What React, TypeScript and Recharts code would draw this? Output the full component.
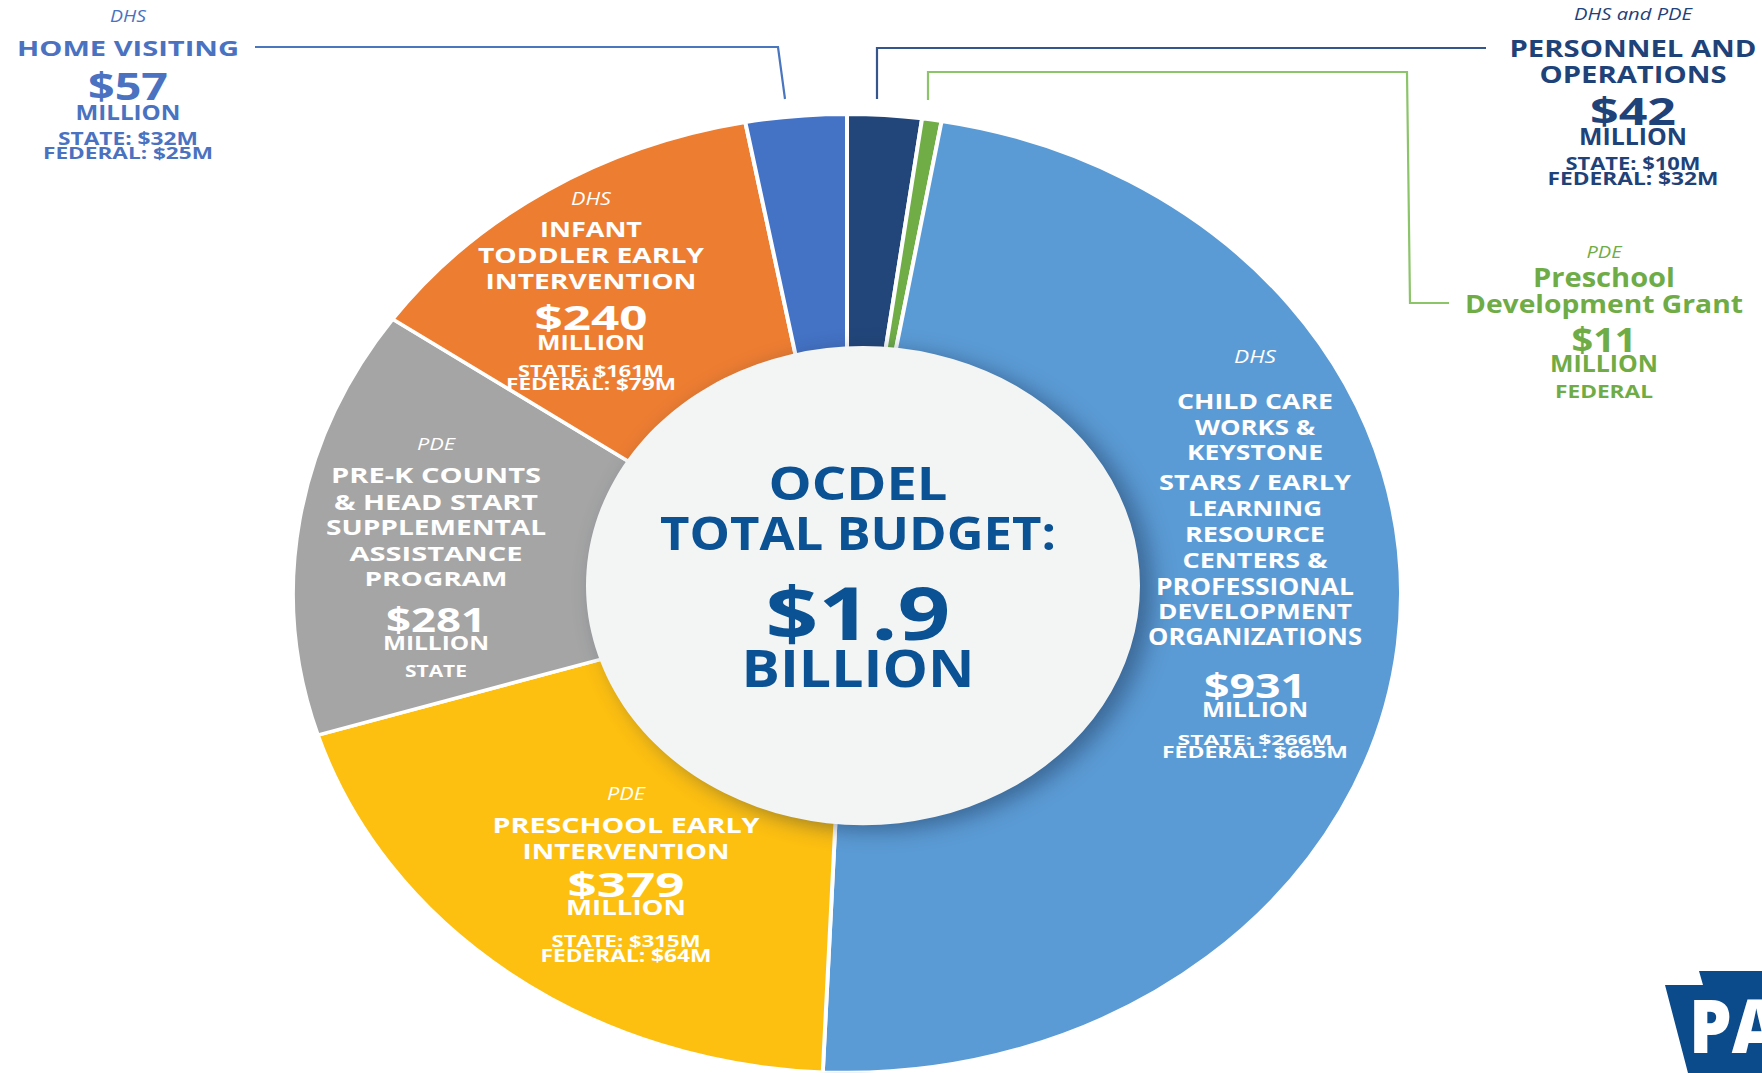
import React from "react";
import { Cell, Pie, PieChart } from "recharts";

// budget lines, clockwise from 12 o'clock
const programs = [
  "Personnel and Operations",
  "Preschool Development Grant",
  "Child Care Works & Keystone STARS / Early Learning Resource Centers & Professional Development Organizations",
  "Preschool Early Intervention",
  "Pre-K Counts & Head Start Supplemental Assistance Program",
  "Infant Toddler Early Intervention",
  "Home Visiting",
];
const agencies = ["DHS and PDE", "PDE", "DHS", "PDE", "PDE", "DHS", "DHS"];
const budgetMillions = [42, 11, 931, 379, 281, 240, 57];
const stateMillions = [10, 0, 266, 315, 281, 161, 32];
const federalMillions = [32, 11, 665, 64, 0, 79, 25];
const nameLines = [
  ["PERSONNEL AND", "OPERATIONS"],
  ["Preschool", "Development Grant"],
  ["CHILD CARE", "WORKS &", "KEYSTONE", "STARS / EARLY", "LEARNING", "RESOURCE", "CENTERS &", "PROFESSIONAL", "DEVELOPMENT", "ORGANIZATIONS"],
  ["PRESCHOOL EARLY", "INTERVENTION"],
  ["PRE-K COUNTS", "& HEAD START", "SUPPLEMENTAL", "ASSISTANCE", "PROGRAM"],
  ["INFANT", "TODDLER EARLY", "INTERVENTION"],
  ["HOME VISITING"],
];

const sliceColors = ["#22467a", "#70ad47", "#5b9bd5", "#fdbf10", "#a5a5a5", "#ed7d31", "#4472c4"];

const W = 1762;
const H = 1073;
const S = 0.865; // the source graphic is squashed vertically

// label blocks: centre x, colour, rows of [centre y, cap height, width]
const labelLayout = [
  { cx: 1633, color: "#1f4279", rows: [[13.5, 12, 118], [48.5, 17, 247], [74.5, 17, 187], [111.5, 27, 86], [136.5, 17, 108], [163.5, 13, 135], [178.5, 13, 171]] },
  { cx: 1604, color: "#6fac46", rows: [[252, 12, 35], [277.5, 19, 142], [304, 18, 278], [339.5, 25, 65], [363.5, 17, 108], [391.5, 13, 98]] },
  { cx: 1255, color: "#ffffff", rows: [[356.5, 13, 42], [401, 16, 156], [427, 16, 120], [452.5, 15, 136], [482.5, 15, 192], [508, 16, 134], [534, 16, 140], [560, 16, 145], [586.5, 17, 198], [611, 16, 194], [636.5, 17, 214], [685.5, 25, 102], [709.5, 15, 106], [740, 10, 155], [752.5, 11, 186]] },
  { cx: 626, color: "#ffffff", rows: [[793.5, 13, 38], [825.5, 15, 267], [851, 16, 207], [884.5, 25, 117], [907.5, 15, 120], [941, 12, 149], [955, 13, 171]] },
  { cx: 436, color: "#ffffff", rows: [[444, 12, 38], [475.5, 15, 210], [502.5, 15, 204], [527.5, 15, 220], [553.5, 14, 173], [578.5, 14, 143], [619.5, 25, 100], [643, 14, 106], [671, 12, 62]] },
  { cx: 591, color: "#ffffff", rows: [[198.5, 13, 40], [229.5, 15, 102], [255.5, 15, 226], [281.5, 15, 211], [317.5, 25, 113], [342.5, 15, 108], [371, 12, 146], [384, 12, 170]] },
  { cx: 128, color: "#4a72c0", rows: [[16, 12, 36], [48, 16, 222], [86.5, 27, 80], [112.5, 15, 105], [138.5, 13, 140], [153, 12, 170]] },
];

const centerLayout = { cx: 858, color: "#0b5294", rows: [[483.5, 33, 179], [533.5, 33, 396], [613.5, 53, 185], [668.5, 37, 233]] };

const leaders = [
  { color: "#4a75bf", points: "255,47 778,47 785,99" },
  { color: "#34568d", points: "1486,48 877,48 877,99" },
  { color: "#8cc46a", points: "928,100 928,72 1407,72 1410,303 1449,303" },
];

const fundingLines = (i: number) => {
  const s = stateMillions[i];
  const f = federalMillions[i];
  if (s > 0 && f > 0) return [`STATE: $${s}M`, `FEDERAL: $${f}M`];
  return s > 0 ? ["STATE"] : ["FEDERAL"];
};

const blockLines = programs.map((_, i) => [
  agencies[i],
  ...nameLines[i],
  `$${budgetMillions[i]}`,
  "MILLION",
  ...fundingLines(i),
]);

const total = budgetMillions.reduce((a, b) => a + b, 0);
const centerLines = ["OCDEL", "TOTAL BUDGET:", `$${(total / 1000).toFixed(1)}`, "BILLION"];

const ringData = programs.map((name, i) => ({ name, value: budgetMillions[i] }));
const diskData = [{ name: "OCDEL total", value: total }];

// one multi-line text per block, each line its own tspan
const TextBlock = ({ lines, layout, italicFirst }: { lines: string[]; layout: any; italicFirst: boolean }) => (
  <text textAnchor="middle" fill={layout.color}>
    {lines.map((t, j) => {
      const [yc, cap, w] = layout.rows[j];
      const italic = italicFirst && j === 0;
      return (
        <tspan
          key={j}
          x={layout.cx}
          y={yc + cap / 2}
          fontSize={cap / 0.72}
          fontStyle={italic ? "italic" : "normal"}
          fontWeight={italic ? 400 : 700}
          textLength={w}
          lengthAdjust="spacingAndGlyphs"
        >
          {t}
        </tspan>
      );
    })}
  </text>
);

export default function App() {
  return (
    <div style={{ position: "absolute", left: 0, top: 0, width: W, height: H, overflow: "hidden", background: "#fff" }}>
      <div style={{ position: "absolute", left: 0, top: 0, width: W, height: H / S, transform: `scaleY(${S})`, transformOrigin: "0 0" }}>
        <PieChart width={W} height={H / S}>
          <Pie
            data={ringData}
            dataKey="value"
            cx={842}
            cy={681}
            innerRadius={255}
            outerRadius={554}
            startAngle={90}
            endAngle={-270}
            stroke="#ffffff"
            strokeWidth={4}
            isAnimationActive={false}
          >
            {ringData.map((d, i) => (
              <Cell key={d.name} fill={sliceColors[i]} />
            ))}
          </Pie>
          <Pie
            data={diskData}
            dataKey="value"
            cx={858}
            cy={672}
            innerRadius={0}
            outerRadius={277}
            stroke="none"
            isAnimationActive={false}
          >
            <Cell fill="#f3f5f5" style={{ filter: "drop-shadow(12px 6px 12px rgba(20,40,70,0.45))" }} />
          </Pie>
        </PieChart>
      </div>
      <svg width={W} height={H} style={{ position: "absolute", left: 0, top: 0, fontFamily: "'Open Sans', sans-serif" }}>
        {leaders.map((l, i) => (
          <polyline key={i} points={l.points} fill="none" stroke={l.color} strokeWidth={2.2} />
        ))}
        {blockLines.map((lines, i) => (
          <TextBlock key={i} lines={lines} layout={labelLayout[i]} italicFirst />
        ))}
        <TextBlock lines={centerLines} layout={centerLayout} italicFirst={false} />
        <polygon points="1665,985 1703,985 1699,971 1762,971 1762,1073 1688,1073" fill="#0b4a8b" />
        <text x={1689} y={1053} fontSize={74} fontWeight={800} fill="#ffffff" textLength={92} lengthAdjust="spacingAndGlyphs">
          PA
        </text>
      </svg>
    </div>
  );
}
